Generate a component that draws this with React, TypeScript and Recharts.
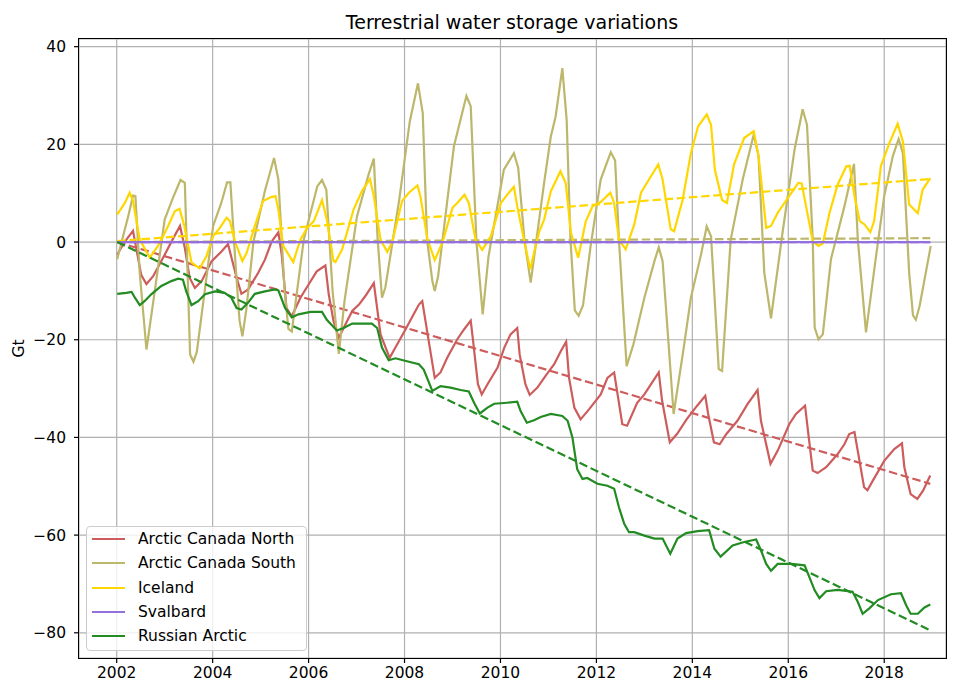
import { LineChart, Line, XAxis, YAxis, CartesianGrid } from "recharts";

// readings taken off the plot: [decimal year, Gt]
const arcticCanadaNorth: [number, number][] = [
  [2002.01, -2.6], [2002.17, 0.1], [2002.34, 2.3], [2002.51, -6.7], [2002.62, -8.6], [2002.76, -7.0],
  [2003.0, -2.6], [2003.18, 0.8], [2003.32, 3.3], [2003.42, -1.2], [2003.52, -7.3], [2003.63, -9.4],
  [2003.77, -8.0], [2003.98, -3.9], [2004.19, -1.9], [2004.32, -0.4], [2004.5, -7.3], [2004.6, -10.6],
  [2004.74, -9.7], [2004.95, -6.3], [2005.09, -3.6], [2005.23, 0.1], [2005.37, 2.0], [2005.44, -2.6],
  [2005.54, -13.5], [2005.65, -15.2], [2005.83, -11.4], [2006.0, -8.7], [2006.17, -6.0], [2006.35, -4.8],
  [2006.42, -10.7], [2006.52, -16.2], [2006.63, -19.6], [2006.73, -17.6], [2006.91, -14.1], [2007.05, -12.8],
  [2007.18, -11.1], [2007.36, -8.4], [2007.41, -12.1], [2007.5, -18.9], [2007.69, -23.7], [2007.81, -21.6],
  [2008.02, -17.9], [2008.19, -14.8], [2008.3, -12.8], [2008.37, -12.1], [2008.47, -18.2], [2008.63, -27.8],
  [2008.75, -26.7], [2008.89, -23.7], [2009.1, -19.9], [2009.24, -17.9], [2009.38, -16.1], [2009.43, -20.3],
  [2009.53, -29.1], [2009.61, -31.2], [2009.73, -29.1], [2009.94, -25.7], [2010.08, -21.6], [2010.21, -18.9],
  [2010.35, -17.6], [2010.4, -23.0], [2010.52, -29.1], [2010.61, -31.3], [2010.77, -29.8], [2010.94, -27.4],
  [2011.12, -25.0], [2011.26, -22.3], [2011.37, -20.4], [2011.43, -27.8], [2011.54, -33.9], [2011.67, -36.3],
  [2011.85, -34.2], [2012.09, -31.2], [2012.23, -27.8], [2012.37, -26.7], [2012.54, -37.3], [2012.64, -37.6],
  [2012.85, -32.9], [2013.0, -31.2], [2013.16, -28.8], [2013.3, -26.7], [2013.37, -32.5], [2013.53, -41.0],
  [2013.68, -39.3], [2013.88, -36.3], [2014.1, -33.5], [2014.27, -31.5], [2014.33, -35.2], [2014.45, -41.0],
  [2014.57, -41.4], [2014.71, -39.3], [2014.94, -36.6], [2015.15, -33.2], [2015.36, -30.3], [2015.43, -36.6],
  [2015.63, -45.4], [2015.78, -42.7], [2016.02, -37.3], [2016.16, -35.2], [2016.35, -33.5], [2016.41, -38.6],
  [2016.51, -46.8], [2016.61, -47.3], [2016.79, -46.1], [2017.03, -43.4], [2017.17, -41.4], [2017.27, -39.3],
  [2017.38, -38.9], [2017.58, -50.2], [2017.65, -50.8], [2017.76, -48.9], [2018.0, -44.8], [2018.21, -42.4],
  [2018.37, -41.2], [2018.42, -46.1], [2018.55, -51.6], [2018.69, -52.6], [2018.81, -50.9], [2018.96, -47.8],
];

const arcticCanadaSouth: [number, number][] = [
  [2002.01, -3.5], [2002.24, 5.3], [2002.34, 9.5], [2002.39, 9.4], [2002.48, -6.3], [2002.62, -22.0],
  [2002.79, -10.3], [2003.0, 4.6], [2003.17, 9.0], [2003.33, 12.7], [2003.42, 12.1], [2003.53, -23.0],
  [2003.6, -24.5], [2003.67, -22.5], [2004.01, 3.3], [2004.18, 8.0], [2004.3, 12.2], [2004.37, 12.2],
  [2004.48, -5.0], [2004.56, -16.0], [2004.62, -19.3], [2004.7, -14.0], [2004.85, 0.0], [2005.09, 10.5],
  [2005.28, 17.2], [2005.37, 12.8], [2005.5, -10.0], [2005.58, -17.8], [2005.65, -18.3], [2005.9, 0.5],
  [2006.18, 11.4], [2006.28, 12.7], [2006.37, 10.7], [2006.5, -10.0], [2006.63, -22.9], [2006.75, -12.0],
  [2007.01, 5.3], [2007.25, 13.8], [2007.36, 17.1], [2007.44, 0.5], [2007.53, -11.4], [2007.6, -9.3],
  [2007.89, 8.7], [2008.11, 24.7], [2008.28, 32.5], [2008.38, 26.4], [2008.47, 0.5], [2008.58, -8.0],
  [2008.63, -10.0], [2008.7, -7.0], [2009.03, 19.6], [2009.29, 29.9], [2009.38, 27.8], [2009.5, 0.0],
  [2009.63, -14.8], [2009.75, -3.0], [2010.07, 14.8], [2010.28, 18.2], [2010.37, 15.2], [2010.5, 0.5],
  [2010.63, -8.3], [2010.91, 12.1], [2011.05, 21.6], [2011.15, 25.7], [2011.29, 35.6], [2011.38, 25.0],
  [2011.46, 0.5], [2011.55, -14.0], [2011.63, -15.1], [2011.72, -13.0], [2011.88, -0.8], [2012.09, 12.8],
  [2012.3, 18.4], [2012.39, 16.7], [2012.47, 0.5], [2012.63, -25.4], [2012.77, -21.0], [2013.0, -11.4],
  [2013.21, -3.9], [2013.3, -1.1], [2013.38, -3.9], [2013.61, -35.2], [2013.8, -23.0], [2013.97, -11.4],
  [2014.18, -2.6], [2014.3, 3.2], [2014.39, 1.2], [2014.55, -26.0], [2014.62, -26.4], [2014.8, 0.5],
  [2015.05, 12.8], [2015.28, 22.0], [2015.38, 17.6], [2015.5, -6.3], [2015.64, -15.6], [2015.88, 1.9],
  [2016.13, 18.9], [2016.3, 27.2], [2016.39, 24.0], [2016.51, 0.5], [2016.55, -17.5], [2016.63, -19.9],
  [2016.72, -18.9], [2016.89, -3.5], [2017.17, 7.3], [2017.37, 16.0], [2017.45, 0.5], [2017.62, -18.5],
  [2017.83, -2.9], [2018.0, 9.4], [2018.18, 17.6], [2018.3, 21.1], [2018.39, 18.2], [2018.52, -6.3],
  [2018.6, -15.0], [2018.66, -15.9], [2018.74, -13.0], [2018.97, -0.8],
];

const iceland: [number, number][] = [
  [2002.01, 5.6], [2002.17, 8.0], [2002.27, 10.1], [2002.34, 8.4], [2002.48, 0.5], [2002.69, -3.2],
  [2002.86, -0.8], [2003.04, 2.6], [2003.21, 6.3], [2003.31, 6.8], [2003.41, 3.3], [2003.56, -4.2],
  [2003.73, -5.4], [2003.87, -2.9], [2004.01, 1.2], [2004.15, 2.9], [2004.29, 5.0], [2004.36, 4.3],
  [2004.47, 0.0], [2004.62, -3.9], [2004.71, -2.2], [2004.88, 3.3], [2005.05, 8.4], [2005.22, 9.2],
  [2005.31, 9.4], [2005.37, 6.7], [2005.47, -0.8], [2005.68, -4.1], [2005.83, 0.5], [2005.97, 2.9],
  [2006.11, 4.3], [2006.28, 8.6], [2006.38, 4.6], [2006.52, -3.9], [2006.56, -4.1], [2006.7, -1.5],
  [2006.94, 6.7], [2007.11, 10.4], [2007.28, 12.9], [2007.36, 9.4], [2007.5, 0.5], [2007.64, -2.0],
  [2007.74, -0.1], [2007.95, 8.4], [2008.09, 10.1], [2008.27, 11.6], [2008.33, 9.4], [2008.48, 0.5],
  [2008.63, -3.7], [2008.79, -0.1], [2009.0, 7.0], [2009.1, 8.0], [2009.25, 9.7], [2009.34, 8.0],
  [2009.48, 0.5], [2009.62, -1.6], [2009.8, 1.2], [2010.01, 8.0], [2010.14, 9.7], [2010.28, 11.3],
  [2010.35, 7.3], [2010.49, 0.5], [2010.62, -5.6], [2010.7, -2.2], [2010.81, 2.2], [2010.91, 4.6],
  [2011.05, 10.4], [2011.25, 14.5], [2011.36, 12.1], [2011.47, 1.9], [2011.62, -3.2], [2011.78, 4.3],
  [2011.92, 7.3], [2012.09, 8.2], [2012.29, 10.1], [2012.37, 8.0], [2012.47, 0.5], [2012.61, -1.5],
  [2012.79, 3.6], [2012.93, 10.1], [2013.07, 12.4], [2013.29, 15.9], [2013.38, 12.8], [2013.55, 2.6],
  [2013.62, 2.2], [2013.8, 8.7], [2013.97, 18.2], [2014.12, 23.7], [2014.3, 26.1], [2014.39, 24.0],
  [2014.47, 14.8], [2014.62, 8.6], [2014.72, 8.0], [2014.87, 15.9], [2015.08, 21.3], [2015.28, 22.7],
  [2015.38, 17.6], [2015.54, 2.9], [2015.64, 3.3], [2015.78, 6.0], [2015.99, 9.0], [2016.21, 12.1],
  [2016.28, 12.0], [2016.41, 5.3], [2016.51, 0.2], [2016.63, -0.8], [2016.72, -0.3], [2016.86, 6.0],
  [2017.03, 11.8], [2017.21, 15.5], [2017.28, 15.6], [2017.38, 9.4], [2017.49, 4.3], [2017.59, 3.6],
  [2017.71, 2.0], [2017.79, 4.3], [2017.93, 15.5], [2018.11, 20.3], [2018.28, 24.2], [2018.39, 20.6],
  [2018.52, 7.7], [2018.7, 5.9], [2018.8, 10.7], [2018.96, 13.1],
];

const svalbard: [number, number][] = [
  [2002.01, 0.0], [2006.0, 0.0], [2010.0, 0.0], [2014.0, 0.0], [2018.96, 0.0],
];

const russianArctic: [number, number][] = [
  [2002.01, -10.6], [2002.2, -10.4], [2002.31, -10.2], [2002.38, -11.4], [2002.48, -12.9], [2002.58, -12.1],
  [2002.72, -10.7], [2002.93, -9.0], [2003.14, -8.0], [2003.28, -7.5], [2003.38, -7.7], [2003.45, -10.1],
  [2003.56, -12.9], [2003.7, -12.1], [2003.84, -10.7], [2004.05, -10.1], [2004.25, -10.4], [2004.39, -11.4],
  [2004.5, -13.5], [2004.6, -13.8], [2004.74, -12.4], [2004.88, -10.6], [2005.09, -10.1], [2005.3, -9.7],
  [2005.37, -9.9], [2005.51, -13.5], [2005.65, -15.4], [2005.79, -14.8], [2006.04, -14.3], [2006.28, -14.3],
  [2006.38, -15.9], [2006.59, -18.1], [2006.73, -17.6], [2006.91, -16.7], [2007.32, -16.7], [2007.43, -17.6],
  [2007.53, -21.6], [2007.67, -24.2], [2007.81, -23.8], [2008.05, -24.4], [2008.3, -25.0], [2008.4, -26.1],
  [2008.51, -28.8], [2008.58, -30.5], [2008.75, -29.5], [2008.96, -29.8], [2009.17, -30.3], [2009.34, -30.6],
  [2009.45, -32.9], [2009.57, -35.1], [2009.73, -33.9], [2009.87, -33.1], [2010.14, -32.9], [2010.35, -32.7],
  [2010.42, -34.6], [2010.55, -37.0], [2010.7, -36.5], [2010.84, -35.8], [2011.05, -35.2], [2011.29, -35.6],
  [2011.4, -36.6], [2011.5, -40.0], [2011.6, -46.5], [2011.71, -48.5], [2011.81, -48.3], [2012.02, -49.5],
  [2012.23, -49.9], [2012.37, -50.5], [2012.47, -54.3], [2012.58, -57.7], [2012.68, -59.4], [2012.79, -59.4],
  [2013.0, -60.1], [2013.21, -60.7], [2013.38, -60.7], [2013.54, -63.8], [2013.69, -60.7], [2013.87, -59.6],
  [2014.11, -59.2], [2014.35, -59.0], [2014.46, -62.8], [2014.59, -64.4], [2014.84, -62.1], [2015.08, -61.4],
  [2015.33, -60.9], [2015.43, -63.1], [2015.54, -65.9], [2015.64, -67.3], [2015.78, -65.9], [2016.06, -65.9],
  [2016.34, -66.2], [2016.44, -68.6], [2016.55, -71.3], [2016.65, -72.9], [2016.79, -71.5], [2017.03, -71.2],
  [2017.34, -71.6], [2017.45, -73.7], [2017.55, -76.1], [2017.69, -75.0], [2017.87, -73.3], [2018.14, -72.1],
  [2018.35, -71.9], [2018.46, -74.4], [2018.55, -76.1], [2018.7, -76.1], [2018.84, -74.8], [2018.96, -74.2],
];

// linear trends (start / end)
const trendACN: [number, number][] = [[2002.01, 0.0], [2018.96, -49.5]];
const trendACS: [number, number][] = [[2002.01, 0.0], [2018.96, 0.8]];
const trendIceland: [number, number][] = [[2002.01, 0.2], [2018.96, 12.9]];
const trendSvalbard: [number, number][] = [[2002.01, 0.0], [2018.96, 0.0]];
const trendRussian: [number, number][] = [[2002.01, 0.0], [2018.96, -79.5]];

const xTicks = [2002, 2004, 2006, 2008, 2010, 2012, 2014, 2016, 2018];
const yTicks = [-80, -60, -40, -20, 0, 20, 40];

const FONT = "DejaVu Sans, sans-serif";

const series = [
  { name: "Arctic Canada North", color: "#CD5C5C", data: arcticCanadaNorth, trend: trendACN },
  { name: "Arctic Canada South", color: "#BDB76B", data: arcticCanadaSouth, trend: trendACS },
  { name: "Iceland", color: "#FFD700", data: iceland, trend: trendIceland },
  { name: "Svalbard", color: "#9370DB", data: svalbard, trend: trendSvalbard },
  { name: "Russian Arctic", color: "#228B22", data: russianArctic, trend: trendRussian },
];

const toPoints = (arr: [number, number][]) => arr.map(([x, y]) => ({ x, y }));

const fmtY = (v: number) => (v < 0 ? "\u2212" + Math.abs(v) : String(v));

export default function App() {
  const tickStyle = { fontSize: 15.5, fill: "#000", fontFamily: FONT };
  return (
    <div style={{ position: "absolute", left: 0, top: 0, width: 960, height: 683, background: "#fff" }}>
      <LineChart width={960} height={683} margin={{ top: 39, right: 14, bottom: 0, left: 0 }}>
        <CartesianGrid stroke="#b0b0b0" strokeWidth={1.2} />
        <XAxis
          dataKey="x"
          type="number"
          domain={[2001.214, 2019.288]}
          ticks={xTicks}
          allowDataOverflow
          height={25}
          tick={tickStyle}
          tickSize={5}
          tickMargin={4}
          axisLine={false}
          tickLine={{ stroke: "#000", strokeWidth: 1.2 }}
        />
        <YAxis
          type="number"
          domain={[-85.16, 41.57]}
          ticks={yTicks}
          allowDataOverflow
          width={79}
          tick={tickStyle}
          tickFormatter={fmtY}
          tickSize={5}
          tickMargin={8}
          axisLine={false}
          tickLine={{ stroke: "#000", strokeWidth: 1.2 }}
        />
        {series.flatMap((s) => [
          <Line
            key={s.name}
            data={toPoints(s.data)}
            dataKey="y"
            type="linear"
            stroke={s.color}
            strokeWidth={2.2}
            dot={false}
            isAnimationActive={false}
          />,
          <Line
            key={s.name + "-trend"}
            data={toPoints(s.trend)}
            dataKey="y"
            type="linear"
            stroke={s.color}
            strokeWidth={2.2}
            strokeDasharray="8.5 3.7"
            dot={false}
            isAnimationActive={false}
          />,
        ])}
      </LineChart>

      {/* axes frame */}
      <div
        style={{
          position: "absolute",
          left: 78,
          top: 38,
          width: 869,
          height: 621,
          boxSizing: "border-box",
          border: "1.2px solid #000",
          pointerEvents: "none",
        }}
      />

      <svg width={960} height={683} style={{ position: "absolute", left: 0, top: 0, pointerEvents: "none" }}>
        <text x={512} y={29} textAnchor="middle" fontSize={19} fontFamily={FONT} fill="#000">
          Terrestrial water storage variations
        </text>
        <text transform="translate(24,348.5) rotate(-90)" textAnchor="middle" fontSize={15.5} fontFamily={FONT} fill="#000">
          Gt
        </text>
      </svg>

      {/* legend */}
      <div
        style={{
          position: "absolute",
          left: 86,
          top: 526,
          width: 221,
          height: 125,
          boxSizing: "border-box",
          border: "1px solid #cccccc",
          borderRadius: 4,
          background: "rgba(255,255,255,0.8)",
          fontFamily: FONT,
          fontSize: 15.5,
          color: "#000",
        }}
      >
        {series.map((s, i) => (
          <div
            key={s.name}
            style={{ position: "absolute", left: 0, top: 2 + Math.round(i * 24.3), height: 20, display: "flex", alignItems: "center" }}
          >
            <div style={{ marginLeft: 5, width: 33, height: 2, background: s.color }} />
            <span style={{ marginLeft: 13, whiteSpace: "nowrap" }}>{s.name}</span>
          </div>
        ))}
      </div>
    </div>
  );
}
